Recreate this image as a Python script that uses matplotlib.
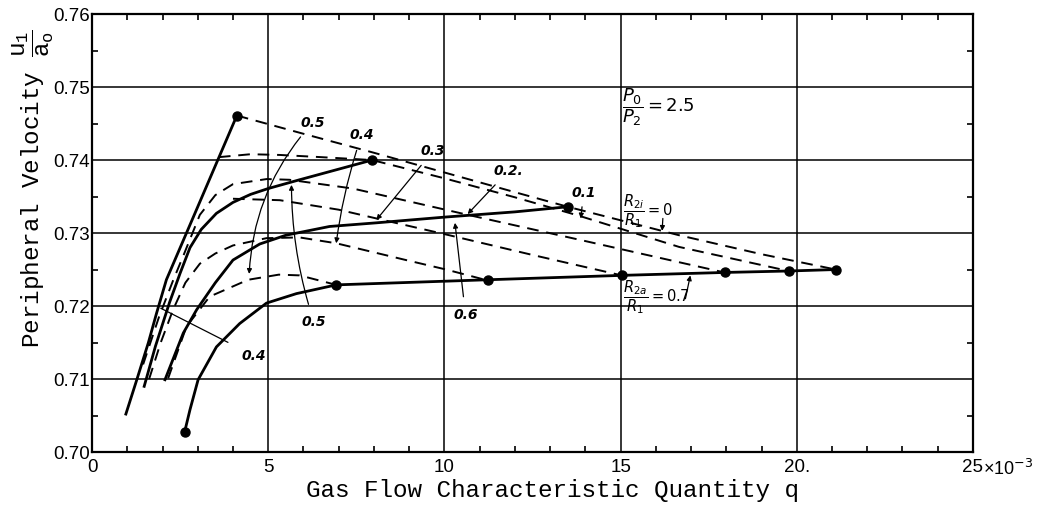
import numpy as np
import matplotlib
matplotlib.use('Agg')
from matplotlib import pyplot as plt
from matplotlib.ticker import MultipleLocator

# solid curves R2a/R1 = 0.4, 0.5, 0.6, 0.7 (q in units of 1e-3, u1/a0)
a_x = [0.96, 1.27, 1.6, 1.83, 2.11, 3.0, 4.11]
a_y = [0.7052, 0.7099, 0.7150, 0.7190, 0.7236, 0.7336, 0.7461]
b_x = [1.48, 1.8, 2.2, 2.5, 2.78, 3.1, 3.53, 4.0, 4.5, 5.0, 5.89, 7.95]
b_y = [0.7090, 0.7145, 0.7205, 0.7245, 0.7280, 0.7305, 0.7327, 0.7342, 0.7353, 0.7361, 0.7373, 0.7400]
c_x = [2.07, 2.59, 2.97, 3.5, 4.0, 4.76, 5.5, 6.74, 8.07, 10.05, 12.0, 13.5]
c_y = [0.7099, 0.7163, 0.7195, 0.7232, 0.7263, 0.7285, 0.7297, 0.7309, 0.7314, 0.7322, 0.7329, 0.7336]
d_x = [2.63, 2.78, 3.01, 3.53, 4.19, 4.95, 5.8, 6.93, 11.23, 15.03, 17.95, 19.77, 21.11]
d_y = [0.7028, 0.7058, 0.7099, 0.7144, 0.7176, 0.7204, 0.7217, 0.7229, 0.7236, 0.7242, 0.7246, 0.7248, 0.7250]

# dashed curves R2i/R1 = 0 ... 0.5
r0_x = [4.11, 6.0, 8.0, 10.0, 12.0, 13.5, 16.66, 19.0, 21.11]
r0_y = [0.7461, 0.7436, 0.7410, 0.7383, 0.7356, 0.7336, 0.7297, 0.7271, 0.7250]
r1_x = [3.6, 4.5, 5.33, 6.5, 7.95, 10.0, 12.0, 13.8, 16.66, 19.77]
r1_y = [0.7404, 0.7408, 0.7407, 0.7404, 0.7400, 0.7375, 0.7349, 0.7324, 0.7281, 0.7248]
r2_x = [1.45, 1.9, 2.3, 2.6, 3.06, 3.5, 4.0, 4.96, 5.6, 7.4, 10.66, 14.0, 17.95]
r2_y = [0.7120, 0.7185, 0.7235, 0.7270, 0.7325, 0.7352, 0.7367, 0.7374, 0.7373, 0.7361, 0.7325, 0.7289, 0.7246]
r3_x = [4.0, 5.33, 7.0, 8.07, 10.05, 12.5, 15.03]
r3_y = [0.7347, 0.7345, 0.7332, 0.7320, 0.7298, 0.7270, 0.7242]
r4_x = [1.62, 1.95, 2.3, 2.65, 3.06, 3.5, 4.0, 4.95, 5.89, 6.93, 8.91, 10.05, 11.23]
r4_y = [0.7100, 0.7150, 0.7195, 0.7232, 0.7258, 0.7272, 0.7283, 0.7293, 0.7294, 0.7286, 0.7263, 0.7250, 0.7235]
r5_x = [2.16, 2.68, 3.34, 4.43, 5.3, 5.89, 6.93]
r5_y = [0.7101, 0.7172, 0.7213, 0.7236, 0.7243, 0.7242, 0.7229]

# marker points
m_x = [4.11, 7.95, 13.5, 2.63, 6.93, 11.23, 15.03, 17.95, 19.77, 21.11]
m_y = [0.7461, 0.7400, 0.7336, 0.7028, 0.7229, 0.7236, 0.7242, 0.7246, 0.7248, 0.7250]

xticks = [0, 5, 10, 15, 20, 25]
xticklabels = ['0', '5', '10', '15', '20.', '25']
yticks = [0.70, 0.71, 0.72, 0.73, 0.74, 0.75, 0.76]

plt.rcParams['mathtext.fontset'] = 'custom'
plt.rcParams['mathtext.rm'] = 'Liberation Mono'
plt.rcParams['mathtext.it'] = 'Liberation Mono'

fig = plt.figure(figsize=(10.4, 5.14), dpi=100)
ax = fig.add_axes([0.0885, 0.1206, 0.847, 0.852])

ax.set_xlim(0, 25)
ax.set_ylim(0.70, 0.76)
ax.set_xticks(xticks)
ax.set_xticklabels(xticklabels)
ax.set_yticks(yticks)
ax.set_yticklabels(['%.2f' % v for v in yticks])
ax.xaxis.set_minor_locator(MultipleLocator(1))
ax.yaxis.set_minor_locator(MultipleLocator(0.005))
ax.tick_params(which='both', direction='in', top=True, right=True, width=1.2)
ax.tick_params(which='major', length=0)
ax.tick_params(axis='x', which='major', pad=5)
ax.tick_params(axis='y', which='major', pad=1.5)
ax.tick_params(which='minor', length=4.5)
for lab in ax.get_xticklabels() + ax.get_yticklabels():
    lab.set_fontfamily('Liberation Sans')
    lab.set_fontsize(13.5)
for s in ax.spines.values():
    s.set_linewidth(1.6)
ax.grid(True, which='major', color='black', linewidth=1.1)

ax.plot(a_x, a_y, color='black', lw=2)
ax.plot(b_x, b_y, color='black', lw=2)
ax.plot(c_x, c_y, color='black', lw=2)
ax.plot(d_x, d_y, color='black', lw=2)
for xs, ys in [(r0_x, r0_y), (r1_x, r1_y), (r2_x, r2_y), (r3_x, r3_y), (r4_x, r4_y), (r5_x, r5_y)]:
    ax.plot(xs, ys, color='black', lw=1.4, dashes=(6, 4))
ax.plot(m_x, m_y, 'o', color='black', ms=6.5, zorder=5)

ax.annotate('×10$^{-3}$', xy=(25, 0.70), xytext=(7, -5), textcoords='offset points',
            ha='left', va='top', fontsize=13, family='Liberation Sans', math_fontfamily='dejavusans')

ax.set_xlabel('Gas Flow Characteristic Quantity q', family='Liberation Mono', fontsize=17.5)
ax.xaxis.set_label_coords(0.523, -0.062)
ax.set_ylabel('Peripheral Velocity $\\dfrac{u_1}{a_o}$', family='Liberation Mono', fontsize=17.5, va='center')
ax.yaxis.set_label_coords(-0.067, 0.60)

hand = dict(fontsize=10, fontweight='bold', fontstyle='italic', family='DejaVu Sans')


def arrowp(style='-|>', rad=0.0, sa=4):
    return dict(arrowstyle=style, color='black', lw=0.9, mutation_scale=7,
                connectionstyle='arc3,rad=%s' % rad, shrinkA=sa, shrinkB=0)


ax.text(15.04, 0.7473, '$\\dfrac{P_0}{P_2} = 2.5$', fontsize=13, math_fontfamily='dejavusans',
        ha='left', va='center')
ax.text(15.08, 0.7330, '$\\dfrac{R_{2i}}{R_1} = 0$', fontsize=10.5, math_fontfamily='dejavusans',
        ha='left', va='center')
ax.annotate('', xy=(16.18, 0.7303), xytext=(16.2, 0.7320), arrowprops=arrowp(sa=0))
ax.text(15.08, 0.7212, '$\\dfrac{R_{2a}}{R_1} = 0.7$', fontsize=10.5, math_fontfamily='dejavusans',
        ha='left', va='center')
ax.annotate('', xy=(16.98, 0.7242), xytext=(16.84, 0.7210), arrowprops=arrowp(sa=0))

ax.annotate('0.5', xy=(4.46, 0.7244), xytext=(6.26, 0.7451), ha='center', va='center', **hand,
            arrowprops=arrowp(rad=0.18))
ax.annotate('0.4', xy=(6.93, 0.7286), xytext=(7.65, 0.7434), ha='center', va='center', **hand,
            arrowprops=arrowp(rad=0.05))
ax.annotate('0.3', xy=(8.07, 0.7318), xytext=(9.67, 0.7412), ha='center', va='center', **hand,
            arrowprops=arrowp())
ax.annotate('0.2.', xy=(10.66, 0.7326), xytext=(11.81, 0.7385), ha='center', va='center', **hand,
            arrowprops=arrowp())
ax.annotate('0.1', xy=(13.87, 0.7320), xytext=(13.95, 0.7355), ha='center', va='center', **hand,
            arrowprops=arrowp(sa=3))
ax.annotate('0.4', xy=(1.95, 0.7197), xytext=(4.6, 0.7132), ha='center', va='center', **hand,
            arrowprops=arrowp(style='-', sa=9))
ax.annotate('0.5', xy=(5.66, 0.7366), xytext=(6.3, 0.7178), ha='center', va='center', **hand,
            arrowprops=arrowp(rad=-0.08, sa=6))
ax.annotate('0.6', xy=(10.3, 0.7314), xytext=(10.6, 0.7188), ha='center', va='center', **hand,
            arrowprops=arrowp(sa=6))

fig.savefig('out.png', dpi=100)
